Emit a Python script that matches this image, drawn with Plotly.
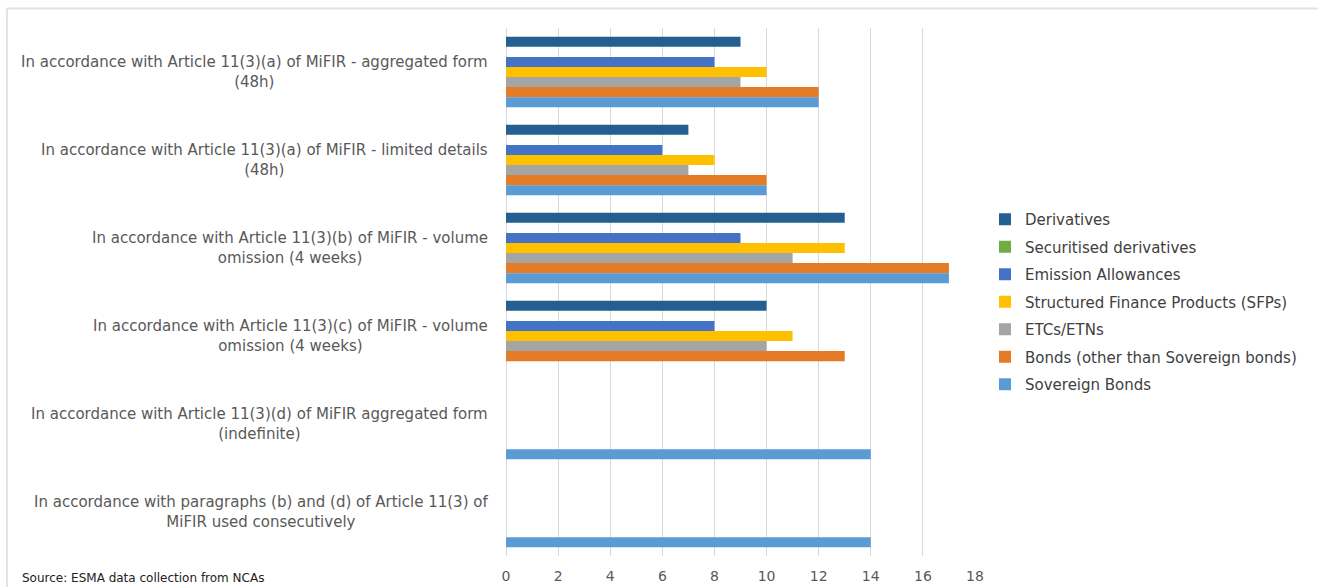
import plotly.graph_objects as go

categories = [
    "In accordance with Article 11(3)(a) of MiFIR - aggregated form<br>(48h)",
    "In accordance with Article 11(3)(a) of MiFIR - limited details<br>(48h)",
    "In accordance with Article 11(3)(b) of MiFIR - volume<br>omission (4 weeks)",
    "In accordance with Article 11(3)(c) of MiFIR - volume<br>omission (4 weeks)",
    "In accordance with Article 11(3)(d) of MiFIR aggregated form<br>(indefinite)",
    "In accordance with paragraphs (b) and (d) of Article 11(3) of<br>MiFIR used consecutively",
]
series_names = [
    "Derivatives",
    "Securitised derivatives",
    "Emission Allowances",
    "Structured Finance Products (SFPs)",
    "ETCs/ETNs",
    "Bonds (other than Sovereign bonds)",
    "Sovereign Bonds",
]
derivatives = [9, 7, 13, 10, None, None]
securitised = [None, None, None, None, None, None]
emission = [8, 6, 9, 8, None, None]
sfps = [10, 8, 13, 11, None, None]
etcs = [9, 7, 11, 10, None, None]
bonds = [12, 10, 17, 13, None, None]
sovereign = [12, 10, 17, None, 14, 14]
x_ticks = [0, 2, 4, 6, 8, 10, 12, 14, 16, 18]

values = [derivatives, securitised, emission, sfps, etcs, bonds, sovereign]
colors = ["#255e91", "#70ad47", "#4472c4", "#ffc000", "#a5a5a5", "#e47b27", "#5b9bd5"]

FONT = "DejaVu Sans, Liberation Sans, Arial, sans-serif"
W, H = 1318, 587
L, R, T, B = 506, 343, 28, 31
pw, ph = W - L - R, H - T - B

def px_x(p):
    return (p - L) / pw

def px_y(p):
    return (H - B - p) / ph

fig = go.Figure()
for i, (name, vals, col) in enumerate(zip(series_names, values, colors)):
    fig.add_trace(go.Bar(
        y=categories, x=vals, name=name, orientation="h",
        marker=dict(color=col, line=dict(width=0)),
        legendgroup=f"g{i}",
    ))

for c in categories:
    fig.add_annotation(
        x=0, xref="paper", y=c, yref="y", text=c, showarrow=False,
        xanchor="right", align="center", xshift=-16,
        font=dict(family=FONT, size=15, color="#595959"),
    )

fig.add_annotation(
    x=px_x(20), xref="paper", y=px_y(578), yref="paper",
    text="Source: ESMA data collection from NCAs", showarrow=False,
    xanchor="left", yanchor="middle",
    font=dict(family=FONT, size=12, color="#222222"),
)

# outer frame lines (top and left)
fig.add_shape(type="line", xref="paper", yref="paper",
              x0=px_x(7), x1=px_x(W), y0=px_y(8.5), y1=px_y(8.5),
              line=dict(color="#e3e3e3", width=2))
fig.add_shape(type="line", xref="paper", yref="paper",
              x0=px_x(7), x1=px_x(7), y0=px_y(8.5), y1=px_y(H),
              line=dict(color="#e3e3e3", width=2))

fig.update_layout(
    width=W, height=H,
    margin=dict(l=L, r=R, t=T, b=B, autoexpand=False),
    paper_bgcolor="white", plot_bgcolor="white",
    barmode="group", bargap=0.2, bargroupgap=0,
    font=dict(family=FONT, size=14, color="#595959"),
    legend=dict(
        x=px_x(985), y=px_y(203), xanchor="left", yanchor="top",
        font=dict(family=FONT, size=15, color="#404040"),
        tracegroupgap=5, traceorder="grouped",
        itemwidth=30, bgcolor="rgba(0,0,0,0)",
    ),
    showlegend=True,
)
fig.update_xaxes(
    range=[0, 18], tickvals=x_ticks, showgrid=True, gridcolor="#d9d9d9",
    gridwidth=1, zeroline=True, zerolinecolor="#d9d9d9", zerolinewidth=1,
    showline=False, ticks="", ticklabelstandoff=10, automargin=False,
    tickfont=dict(family=FONT, size=14, color="#595959"),
)
fig.update_yaxes(
    autorange="reversed", showticklabels=False, showgrid=False,
    showline=False, ticks="", automargin=False,
)

fig.write_html("out.html")
